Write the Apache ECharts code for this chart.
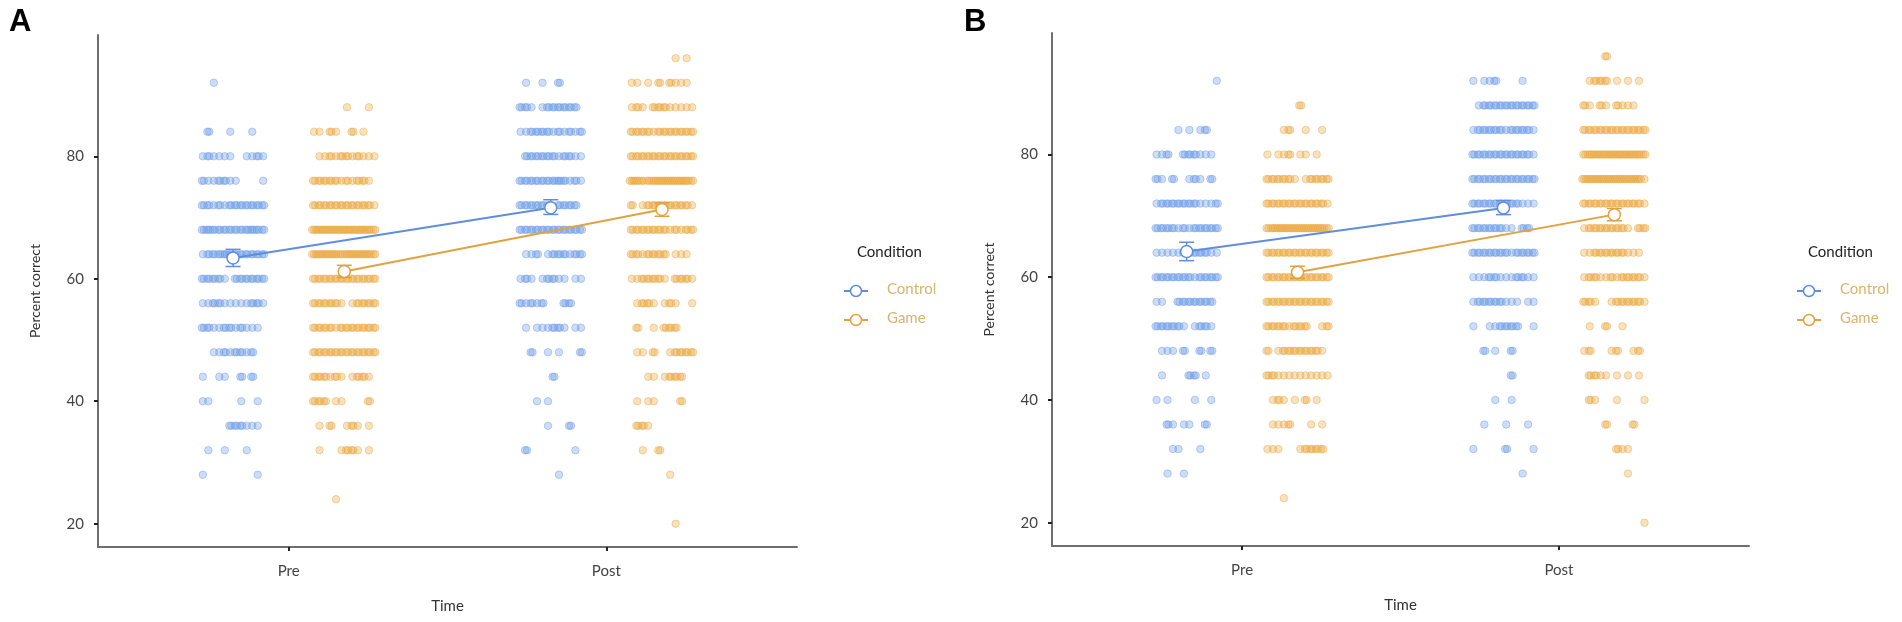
<!DOCTYPE html>
<html>
<head>
<meta charset="utf-8">
<title>Percent correct by time and condition</title>
<script src="https://cdn.jsdelivr.net/npm/echarts@6/dist/echarts.min.js"></script>
<style>
html,body{margin:0;padding:0;background:#fff;}
#main{width:1902px;height:622px;}
</style>
</head>
<body>
<div id="main"></div>
<script>
// categories / ticks
var timeLabels = ['Pre', 'Post'];
var conditions = ['Control', 'Game'];
var yTicks = [20, 40, 60, 80];

// individual scores: [percent correct, dots across the jitter band (digit = how many dots overlap)]
var aPreControl = [
  [92,'001000000000'],[84,'020001000100'],[80,'121111001121'],[76,'211221100001'],
  [72,'221212222222'],[68,'232222222322'],[64,'122232222222'],[60,'222210222222'],
  [56,'112211111221'],[52,'221122121110'],[48,'001121221200'],[44,'100110020200'],
  [40,'110000010010'],[36,'000002221110'],[32,'010010001000'],[28,'100000000010']
];
var aPreGame = [
  [88,'000000100010'],[84,'110210020100'],[80,'011212212111'],[76,'222221212210'],
  [72,'222222222221'],[68,'333333333332'],[64,'333332333332'],[60,'222222222222'],
  [56,'222221012222'],[52,'222212222222'],[48,'222222222222'],[44,'222121012210'],
  [40,'222011000020'],[36,'010200121010'],[32,'010001221010'],[24,'000010000000']
];
var aPostControl = [
  [92,'010010020000'],[88,'221012222220'],[84,'112222121212'],[80,'022222212211'],
  [76,'222222232121'],[72,'222222022220'],[68,'222222222222'],[64,'011201222122'],
  [60,'121012211011'],[56,'212120002200'],[52,'010111221011'],[48,'002001010002'],
  [44,'000000200000'],[40,'000101000000'],[36,'000001000200'],[32,'020000000010'],
  [28,'000000010000']
];
var aPostGame = [
  [96,'000000001010'],[92,'110102021110'],[88,'121022211111'],[84,'222212222222'],
  [80,'222222222222'],[76,'332233333332'],[72,'201222222221'],[68,'222222212122'],
  [64,'221222201110'],[60,'112222102221'],[56,'012210121001'],[52,'020010222000'],
  [48,'011020012222'],[44,'000110122200'],[40,'010110000200'],[36,'022100000000'],
  [32,'001002000000'],[28,'000000010000'],[20,'000000001000']
];
var bPreControl = [
  [92,'000000000001'],[84,'000010101200'],[80,'112002221110'],[76,'210200121020'],
  [72,'122222221112'],[68,'222212122222'],[64,'111112222211'],[60,'222222212222'],
  [56,'110022222220'],[52,'222221012210'],[48,'011102002020'],[44,'010000220100'],
  [40,'101000010010'],[36,'002101100200'],[32,'000110001000'],[28,'001001000000']
];
var bPreGame = [
  [88,'000000200000'],[84,'000120010010'],[80,'101120110100'],[76,'222221012222'],
  [72,'222222222221'],[68,'233333333332'],[64,'222222222222'],[60,'222222222222'],
  [56,'222222222222'],[52,'222212220012'],[48,'201222222210'],[44,'221111111111'],
  [40,'012101020100'],[36,'011120001010'],[32,'111000122220'],[24,'000100000000']
];
var bPostControl = [
  [92,'101120000100'],[88,'012222222222'],[84,'122222122221'],[80,'222222222221'],
  [76,'222222222222'],[72,'222222222111'],[68,'222222110220'],[64,'222222212222'],
  [60,'111221112211'],[56,'122222111011'],[52,'100112222001'],[48,'002010020000'],
  [44,'000000020000'],[40,'000010010000'],[36,'001000100010'],[32,'100000200001'],
  [28,'000000000100']
];
var bPostGame = [
  [96,'000020000000'],[92,'012220101010'],[88,'210210211100'],[84,'222222222222'],
  [80,'233333333332'],[76,'333333333331'],[72,'222222222221'],[68,'122222221022'],
  [64,'112222221110'],[60,'122112122221'],[56,'221001222221'],[52,'010020010000'],
  [48,'120001200120'],[44,'022110101010'],[40,'021000100001'],[36,'000020000200'],
  [32,'000000211000'],[28,'000000001000'],[20,'000000000001']
];

// means with error bars, [Pre, Post]
var aControlMean = [63.4, 71.6], aControlLo = [62.0, 70.5], aControlHi = [64.8, 72.9];
var aGameMean = [61.2, 71.3], aGameLo = [60.2, 70.2], aGameHi = [62.2, 72.4];
var bControlMean = [64.2, 71.3], bControlLo = [62.7, 70.2], bControlHi = [65.7, 72.5];
var bGameMean = [60.8, 70.2], bGameLo = [59.8, 69.2], bGameHi = [61.8, 71.2];

var colors = { Control: '#6b9ae6', Game: '#eba73d' };
var lineColors = { Control: '#5f8ede', Game: '#e2a241' };
var dodge = { Control: -0.175, Game: 0.175 };
var font = 'Lato, "Open Sans", sans-serif';

function rgba(hex, a) {
  var n = parseInt(hex.slice(1), 16);
  return 'rgba(' + (n >> 16) + ',' + ((n >> 8) & 255) + ',' + (n & 255) + ',' + a + ')';
}

// turn the row patterns into scatter points around the group centre
function dots(rows, centre) {
  var out = [];
  rows.forEach(function (r) {
    var pat = r[1];
    for (var i = 0; i < pat.length; i++) {
      var n = +pat[i];
      for (var k = 0; k < n; k++) {
        var off = -0.095 + i * 0.19 / (pat.length - 1) + (k - (n - 1) / 2) * 0.006;
        out.push([centre + off, r[0]]);
      }
    }
  });
  return out;
}

var panels = [
  { pre: { Control: aPreControl, Game: aPreGame }, post: { Control: aPostControl, Game: aPostGame },
    mean: { Control: aControlMean, Game: aGameMean }, lo: { Control: aControlLo, Game: aGameLo },
    hi: { Control: aControlHi, Game: aGameHi } },
  { pre: { Control: bPreControl, Game: bPreGame }, post: { Control: bPostControl, Game: bPostGame },
    mean: { Control: bControlMean, Game: bGameMean }, lo: { Control: bControlLo, Game: bGameLo },
    hi: { Control: bControlHi, Game: bGameHi } }
];

var grids = [
  { left: 98, top: 35, width: 699, height: 512 },
  { left: 1052, top: 33, width: 697, height: 513 }
];

var xAxes = [], yAxes = [], series = [];

grids.forEach(function (g, gi) {
  xAxes.push({
    gridIndex: gi, type: 'value', min: 0.4, max: 2.6,
    name: 'Time', nameLocation: 'middle', nameGap: 52,
    nameTextStyle: { fontFamily: font, fontSize: 15, color: '#333' },
    splitLine: { show: false },
    axisLine: { show: true, onZero: false, lineStyle: { color: '#6e6e6e', width: 2 } },
    axisTick: { show: true, customValues: [1, 2], length: 4, lineStyle: { color: '#222', width: 2 } },
    axisLabel: {
      customValues: [1, 2], margin: 17, fontFamily: font, fontSize: 15, color: '#444',
      formatter: function (v) { return timeLabels[Math.round(v) - 1]; }
    }
  });
  yAxes.push({
    gridIndex: gi, type: 'value', min: 16.2, max: 99.8,
    name: 'Percent correct', nameLocation: 'middle', nameGap: 56,
    nameTextStyle: { fontFamily: font, fontSize: 14, color: '#333' },
    splitLine: { show: false },
    axisLine: { show: true, onZero: false, lineStyle: { color: '#6e6e6e', width: 2 } },
    axisTick: { show: true, customValues: yTicks, length: 4, lineStyle: { color: '#222', width: 2 } },
    axisLabel: { customValues: yTicks, margin: 14, fontFamily: font, fontSize: 15, color: '#444' }
  });

  var p = panels[gi];
  conditions.forEach(function (c) {
    var pts = dots(p.pre[c], 1 + dodge[c]).concat(dots(p.post[c], 2 + dodge[c]));
    series.push({
      type: 'scatter', name: c, xAxisIndex: gi, yAxisIndex: gi, z: 2,
      symbolSize: 7.5, data: pts,
      itemStyle: { color: rgba(colors[c], 0.42), borderColor: rgba(colors[c], 0.55), borderWidth: 1 }
    });
    series.push({
      type: 'custom', name: c, xAxisIndex: gi, yAxisIndex: gi, z: 4,
      data: [[1 + dodge[c], p.lo[c][0], p.hi[c][0]], [2 + dodge[c], p.lo[c][1], p.hi[c][1]]],
      renderItem: function (params, api) {
        var a = api.coord([api.value(0), api.value(1)]);
        var b = api.coord([api.value(0), api.value(2)]);
        var st = { stroke: lineColors[c], lineWidth: 1.5 };
        return {
          type: 'group', children: [
            { type: 'line', shape: { x1: a[0], y1: a[1], x2: b[0], y2: b[1] }, style: st },
            { type: 'line', shape: { x1: a[0] - 7.5, y1: a[1], x2: a[0] + 7.5, y2: a[1] }, style: st },
            { type: 'line', shape: { x1: b[0] - 7.5, y1: b[1], x2: b[0] + 7.5, y2: b[1] }, style: st }
          ]
        };
      }
    });
    series.push({
      type: 'line', name: c, xAxisIndex: gi, yAxisIndex: gi, z: 5,
      data: [[1 + dodge[c], p.mean[c][0]], [2 + dodge[c], p.mean[c][1]]],
      symbol: 'circle', symbolSize: 12, showSymbol: true,
      lineStyle: { color: lineColors[c], width: 2 },
      itemStyle: { color: '#fff', borderColor: lineColors[c], borderWidth: 1.5 }
    });
  });
});

// panel letters and legends
var graphics = [];
[{ letter: 'A', x: 9, lx: 857, ix: 844 }, { letter: 'B', x: 964, lx: 1808, ix: 1797 }].forEach(function (o) {
  graphics.push({ type: 'text', left: o.x, top: 7,
    style: { text: o.letter, font: 'bold 31px "Liberation Sans", Arial, sans-serif', fill: '#000' } });
  graphics.push({ type: 'text', left: o.lx, top: 245,
    style: { text: 'Condition', font: '15px ' + font, fill: '#222' } });
  conditions.forEach(function (c, i) {
    var y = 291 + i * 29;
    graphics.push({ type: 'line', shape: { x1: o.ix, y1: y, x2: o.ix + 24, y2: y },
      style: { stroke: lineColors[c], lineWidth: 2 } });
    graphics.push({ type: 'circle', shape: { cx: o.ix + 12, cy: y, r: 5.5 },
      style: { fill: '#fff', stroke: lineColors[c], lineWidth: 1.5 } });
    graphics.push({ type: 'text', left: o.ix + 43, top: y - 9,
      style: { text: c, font: '15px ' + font, fill: '#d8b46c' } });
  });
});

var chartDom = document.getElementById('main');
var myChart = echarts.init(chartDom);
var option = {
  animation: false,
  grid: grids,
  xAxis: xAxes,
  yAxis: yAxes,
  series: series,
  graphic: graphics
};
myChart.setOption(option);
</script>
</body>
</html>
